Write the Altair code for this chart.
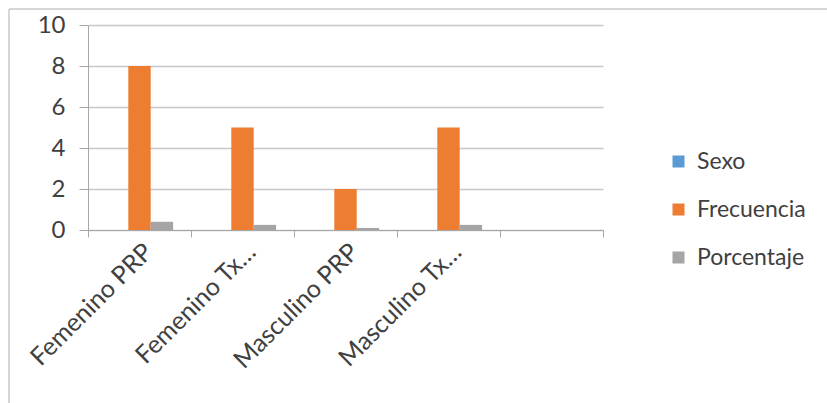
import altair as alt
import pandas as pd

# Categories (the fifth slot is an empty category column)
categories = ["Femenino PRP", "Femenino Tx…", "Masculino PRP", "Masculino Tx…", " "]
series = ["Sexo", "Frecuencia", "Porcentaje"]
colors = ["#5B9BD5", "#ED7D31", "#A5A5A5"]

sexo = [None, None, None, None]
frecuencia = [8, 5, 2, 5]
porcentaje = [0.40, 0.25, 0.10, 0.25]

rows = []
for i, cat in enumerate(categories[:4]):
    rows.append({"cat": cat, "serie": "Sexo", "valor": sexo[i]})
    rows.append({"cat": cat, "serie": "Frecuencia", "valor": frecuencia[i]})
    rows.append({"cat": cat, "serie": "Porcentaje", "valor": porcentaje[i]})
df = pd.DataFrame(rows)

FONT = "Lato"
TEXT = "#404040"
AXIS = "#A6A6A6"
GRID = "#C8C8C8"

bars = alt.Chart(df).mark_bar().encode(
    x=alt.X(
        "cat:N",
        sort=categories,
        scale=alt.Scale(domain=categories, paddingInner=0, paddingOuter=0),
        axis=alt.Axis(
            title=None,
            labelAngle=-45,
            labelFontSize=25,
            labelFont=FONT,
            labelColor=TEXT,
            labelPadding=2,
            labelLimit=400,
            tickBand="extent",
            tickSize=7,
            tickColor=AXIS,
            domainColor=AXIS,
            grid=False,
        ),
    ),
    xOffset=alt.XOffset(
        "serie:N", sort=series,
        scale=alt.Scale(domain=series, paddingInner=0, paddingOuter=0.8),
    ),
    y=alt.Y(
        "valor:Q",
        scale=alt.Scale(domain=[0, 10], nice=False),
        axis=alt.Axis(
            title=None,
            values=[0, 2, 4, 6, 8, 10],
            labelFontSize=24,
            labelFont=FONT,
            labelColor=TEXT,
            labelPadding=14,
            tickSize=9,
            tickColor=AXIS,
            domainColor=AXIS,
            gridColor=GRID,
            gridWidth=1.5,
        ),
    ),
    color=alt.Color(
        "serie:N",
        scale=alt.Scale(domain=series, range=colors),
        legend=alt.Legend(
            title=None,
            orient="none",
            legendX=579,
            legendY=125,
            symbolType="square",
            symbolSize=144,
            symbolStrokeWidth=0,
            labelFontSize=23,
            labelFont=FONT,
            labelColor=TEXT,
            rowPadding=24,
            labelOffset=7,
        ),
    ),
)

# Light frame along the top and left edges of the figure
frame_top = alt.Chart(pd.DataFrame({"k": [0]})).mark_rule(color="#C8C8C8", strokeWidth=1.5).encode(
    x=alt.value(-79), x2=alt.value(740), y=alt.value(-16)
)
frame_left = alt.Chart(pd.DataFrame({"k": [0]})).mark_rule(color="#C8C8C8", strokeWidth=1.5).encode(
    x=alt.value(-79), y=alt.value(-16), y2=alt.value(380)
)

chart = (
    alt.layer(bars, frame_top, frame_left)
    .properties(
        width=515,
        height=205,
        autosize=alt.AutoSizeParams(type="none"),
        padding={"left": 88, "top": 25, "right": 224, "bottom": 173},
        background="white",
    )
    .configure_view(stroke=None)
)

chart.save("out.html", embed_options={"renderer": "svg", "actions": False})
